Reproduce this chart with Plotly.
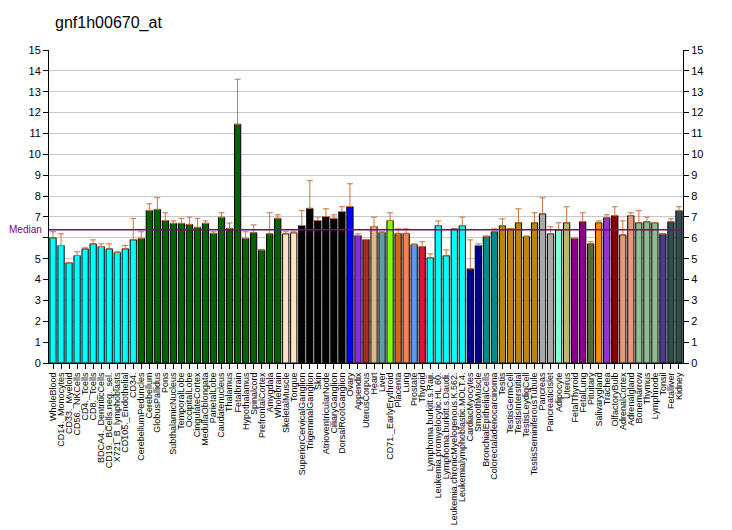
import plotly.graph_objects as go

# gnf1h00670_at - expression across tissues

tissues = [
    "WholeBlood", "CD14._Monocytes", "CD33._Myeloid", "CD56._NKCells", "CD4._Tcells",
    "CD8._Tcells", "BDCA4._DentriticCells", "CD19._BCells.neg._sel.", "X721_B_lymphoblasts",
    "CD105._Endothelial", "CD34.", "CerebellumPeduncles", "Cerebellum", "GlobusPallidus",
    "Pons", "SubthalamicNucleus", "TemporalLobe", "OccipitalLobe", "CingulateCortex",
    "MedullaOblongata", "ParietalLobe", "Caudatenucleus", "Thalamus", "Fetalbrain",
    "Hypothalamus", "Spinalcord", "PrefrontalCortex", "Amygdala", "Wholebrain",
    "SkeletalMuscle", "Tongue", "SuperiorCervicalGanglion", "TrigeminalGanglion", "Skin",
    "AtrioventricularNode", "CiliaryGanglion", "DorsalRootGanglion", "Ovary", "Appendix",
    "UterusCorpus", "Heart", "Liver", "CD71._EarlyErythroid", "Placenta", "Lung",
    "Prostate", "Thyroid", "Lymphoma.burkitt.s.Raji.", "Leukemia.promyelocytic.HL.60.",
    "Lymphoma.burkitt.s.Daudi.", "Leukemia.chronicMyelogenous.K.562.",
    "Leukemialymphoblastic.MOLT.4.", "CardiacMyocytes", "SmoothMuscle",
    "BronchialEpithelialCells", "Colorectaladenocarcinoma", "Testis", "TestisGermCell",
    "TestisInterstitial", "TestisLeydigCell", "TestisSeminiferousTubule", "Pancreas",
    "PancreaticIslet", "Adipocyte", "Uterus", "FetalThyroid", "FetalLung", "Pituitary",
    "Salivarygland", "Trachea", "OlfactoryBulb", "AdrenalCortex", "Adrenalgland",
    "Bonemarrow", "Thymus", "Lymphnode", "Tonsil", "Fetalliver", "Kidney",
]

values = [
    6.00, 5.63, 4.80, 5.15, 5.47, 5.71, 5.58, 5.47, 5.30, 5.47,
    5.90, 5.97, 7.31, 7.36, 6.83, 6.69, 6.69, 6.64, 6.50, 6.69,
    6.21, 6.98, 6.45, 11.44, 5.97, 6.24, 5.42, 6.19, 6.93, 6.19,
    6.24, 6.59, 7.41, 6.83, 7.02, 6.93, 7.26, 7.50, 6.11, 5.92,
    6.54, 6.26, 6.83, 6.21, 6.21, 5.68, 5.58, 5.04, 6.58, 5.14,
    6.43, 6.58, 4.51, 5.63, 6.06, 6.29, 6.58, 6.43, 6.72, 6.06,
    6.72, 7.15, 6.19, 6.38, 6.72, 5.97, 6.77, 5.71, 6.72, 6.96,
    7.06, 6.14, 7.06, 6.72, 6.77, 6.72, 6.19, 6.77, 7.30,
]

errors = [
    0.29, 0.56, 0.00, 0.18, 0.05, 0.19, 0.13, 0.24, 0.03, 0.16,
    1.03, 0.32, 0.32, 0.56, 0.37, 0.12, 0.24, 0.35, 0.43, 0.12,
    0.08, 0.22, 0.26, 2.16, 0.32, 0.38, 0.00, 1.01, 0.17, 0.10,
    0.05, 0.71, 1.33, 0.16, 0.37, 0.17, 0.23, 1.09, 0.08, 0.00,
    0.45, 0.03, 0.37, 0.22, 0.22, 0.03, 0.23, 0.19, 0.23, 0.28,
    0.00, 0.41, 1.39, 0.08, 0.03, 0.14, 0.33, 0.00, 0.67, 0.03,
    0.48, 0.77, 0.34, 0.34, 0.77, 0.03, 0.43, 0.10, 0.09, 0.14,
    0.43, 0.67, 0.14, 0.58, 0.22, 0.00, 0.00, 0.14, 0.19,
]

median_value = 6.38

y_ticks = list(range(0, 16))

bar_colors = (
    ["#00FFFF"] * 11 + ["#006400"] * 18 + ["#FFE4C4"] * 2 + ["#000000"] * 6
    + ["#0000FF", "#8A2BE2", "#A52A2A", "#DEB887", "#5F9EA0", "#7FFF00",
       "#D2691E", "#FF7F50", "#6495ED", "#DC143C"]
    + ["#00FFFF"] * 5 + ["#00008B"] * 2 + ["#008B8B"] * 2 + ["#B8860B"] * 5
    + ["#A9A9A9"] * 2 + ["#7FFFD4", "#BDB76B"] + ["#8B008B"] * 2
    + ["#556B2F", "#FF8C00", "#9932CC", "#8B0000"] + ["#E9967A"] * 2
    + ["#8FBC8F"] * 3 + ["#483D8B"] + ["#2F4F4F"] * 2
)

font_family = "Liberation Sans, Arial, sans-serif"

fig = go.Figure()
fig.add_trace(go.Bar(
    x=tissues,
    y=values,
    marker=dict(color=bar_colors, line=dict(color="#000000", width=1)),
    error_y=dict(type="data", symmetric=False, array=errors,
                 arrayminus=[0] * len(errors),
                 color="#C8743C", thickness=1, width=3),
    showlegend=False,
))
# invisible trace to draw the right-hand axis
fig.add_trace(go.Scatter(x=[tissues[0]], y=[0], yaxis="y2", mode="markers",
                         marker=dict(opacity=0), showlegend=False,
                         hoverinfo="skip"))

fig.add_hline(y=median_value, line_color="#800080", line_width=1.5)
fig.add_annotation(x=0, xref="paper", y=median_value, yref="y",
                   text="Median", showarrow=False, xanchor="right",
                   xshift=-5, font=dict(color="#800080", size=10,
                                        family=font_family))

axis_y = dict(range=[0, 15], tickmode="array", tickvals=y_ticks,
              ticks="outside", ticklen=5, tickcolor="#000000", showline=True,
              linecolor="#000000", linewidth=1, automargin=False,
              tickfont=dict(size=11, color="#000000", family=font_family),
              zeroline=False)

# the left "6" is covered by the Median label in the original
left_text = ["" if t == 6 else str(t) for t in y_ticks]

# page has an 8px body margin, so the figure is 8px smaller than the window
fig.update_layout(
    width=724, height=522,
    margin=dict(l=41, r=49, t=42, b=167),
    paper_bgcolor="#FFFFFF", plot_bgcolor="#FFFFFF",
    bargap=0.22,
    title=dict(text="gnf1h00670_at", x=0.065, xanchor="left", y=0.973,
               yanchor="middle",
               font=dict(size=16, color="#000000", family=font_family)),
    xaxis=dict(tickangle=-90, ticks="outside", ticklen=5, tickcolor="#000000",
               tickmode="array", tickvals=tissues, ticktext=tissues,
               showline=True, linecolor="#000000", linewidth=1,
               automargin=False,
               tickfont=dict(size=9, color="#000000", family=font_family),
               showgrid=False, range=[-0.5, len(tissues) - 0.5]),
    yaxis=dict(**axis_y, ticktext=left_text, showgrid=True,
               gridcolor="#C8C8C8", gridwidth=1),
    yaxis2=dict(**axis_y, overlaying="y", side="right", showgrid=False),
)

fig.write_html("out.html")
